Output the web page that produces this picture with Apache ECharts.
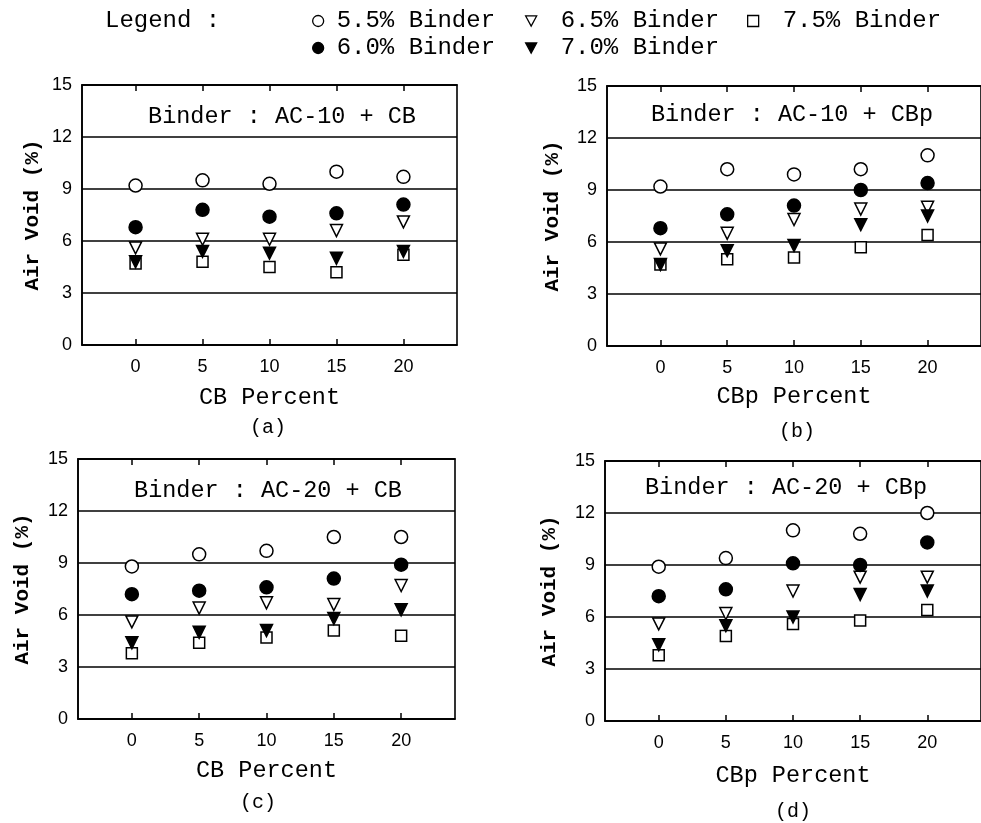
<!DOCTYPE html>
<html>
<head>
<meta charset="utf-8">
<script src="https://cdn.jsdelivr.net/npm/echarts@6/dist/echarts.min.js"></script>
<style>html,body{margin:0;padding:0;background:#fff;}#c{width:981px;height:823px;}</style>
</head>
<body>
<div id="c"></div>
<script>
// ---- data ----
const cbPercent = [0, 5, 10, 15, 20];
const xTicks = [0, 5, 10, 15, 20];
const yTicks = [0, 3, 6, 9, 12, 15];
const binders = ['5.5% Binder', '6.0% Binder', '6.5% Binder', '7.0% Binder', '7.5% Binder'];

// (a) AC-10 + CB
const a55 = [9.2, 9.5, 9.3, 10.0, 9.7];
const a60 = [6.8, 7.8, 7.4, 7.6, 8.1];
const a65 = [5.6, 6.1, 6.1, 6.6, 7.1];
const a70 = [4.8, 5.4, 5.3, 5.0, 5.4];
const a75 = [4.7, 4.8, 4.5, 4.2, 5.2];
// (b) AC-10 + CBp
const b55 = [9.2, 10.2, 9.9, 10.2, 11.0];
const b60 = [6.8, 7.6, 8.1, 9.0, 9.4];
const b65 = [5.6, 6.5, 7.3, 7.9, 8.0];
const b70 = [4.7, 5.5, 5.8, 7.0, 7.5];
const b75 = [4.7, 5.0, 5.1, 5.7, 6.4];
// (c) AC-20 + CB
const c55 = [8.8, 9.5, 9.7, 10.5, 10.5];
const c60 = [7.2, 7.4, 7.6, 8.1, 8.9];
const c65 = [5.6, 6.4, 6.7, 6.6, 7.7];
const c70 = [4.4, 5.0, 5.1, 5.8, 6.3];
const c75 = [3.8, 4.4, 4.7, 5.1, 4.8];
// (d) AC-20 + CBp
const d55 = [8.9, 9.4, 11.0, 10.8, 12.0];
const d60 = [7.2, 7.6, 9.1, 9.0, 10.3];
const d65 = [5.6, 6.2, 7.5, 8.3, 8.3];
const d70 = [4.4, 5.5, 6.0, 7.3, 7.5];
const d75 = [3.8, 4.9, 5.6, 5.8, 6.4];

const panelTitles = ['Binder : AC-10 + CB', 'Binder : AC-10 + CBp', 'Binder : AC-20 + CB', 'Binder : AC-20 + CBp'];
const xNames = ['CB Percent', 'CBp Percent', 'CB Percent', 'CBp Percent'];
const yName = 'Air Void (%)';
const subLabels = ['(a)', '(b)', '(c)', '(d)'];
const panelData = [
  [a55, a60, a65, a70, a75],
  [b55, b60, b65, b70, b75],
  [c55, c60, c65, c70, c75],
  [d55, d60, d65, d70, d75]
];

// ---- layout / style ----
const MONO = "'Liberation Mono', 'DejaVu Sans Mono', monospace";
const SANS = "'Liberation Sans', Arial, sans-serif";
const grids = [
  {left: 82, top: 85, width: 375, height: 260},
  {left: 607, top: 86, width: 375, height: 260},
  {left: 78, top: 459, width: 377, height: 260},
  {left: 605, top: 461, width: 376, height: 260}
];
const yNameGap = [39, 44, 45, 45];
const xNameGap = [41, 39, 40, 43];
const titlePos = [[282, 117], [792, 115], [268, 491], [786, 488]];
const subPos = [[268, 428], [797, 432], [258, 803], [793, 812]];

const symStyles = [
  {symbol: 'circle', size: 13, rot: 0, fill: '#fff'},
  {symbol: 'circle', size: 13, rot: 0, fill: '#000'},
  {symbol: 'triangle', size: 12, rot: 180, fill: '#fff'},
  {symbol: 'triangle', size: 12, rot: 180, fill: '#000'},
  {symbol: 'rect', size: 11, rot: 0, fill: '#fff'}
];
const legendIcons = ['circle', 'circle', 'path://M0,0L12,0L6,11Z', 'path://M0,0L12,0L6,11Z', 'rect'];
const drawOrder = [0, 2, 4, 1, 3];

const xAxes = [], yAxes = [], series = [], graphics = [];
grids.forEach((g, p) => {
  g.show = true; g.borderColor = '#000'; g.borderWidth = 1.6; g.backgroundColor = 'transparent'; g.containLabel = false;
  xAxes.push({
    gridIndex: p, type: 'value', min: -4, max: 24, position: 'bottom',
    name: xNames[p], nameLocation: 'middle', nameGap: xNameGap[p],
    nameTextStyle: {fontFamily: MONO, fontSize: 23.5, color: '#000'},
    axisLine: {show: true, onZero: false, lineStyle: {color: '#000', width: 1.6}},
    axisTick: {show: true, inside: true, length: 6, customValues: xTicks, lineStyle: {color: '#000', width: 1.5}},
    axisLabel: {show: true, customValues: xTicks, margin: 13, fontFamily: SANS, fontSize: 18, color: '#000'},
    splitLine: {show: false}
  });
  xAxes.push({
    gridIndex: p, type: 'value', min: -4, max: 24, position: 'top',
    axisLine: {show: true, onZero: false, lineStyle: {color: '#000', width: 1.6}},
    axisTick: {show: true, inside: true, length: 6, customValues: xTicks, lineStyle: {color: '#000', width: 1.5}},
    axisLabel: {show: false},
    splitLine: {show: false}
  });
  yAxes.push({
    gridIndex: p, type: 'value', min: yTicks[0], max: yTicks[yTicks.length - 1], interval: 3,
    position: 'left',
    name: yName, nameLocation: 'middle', nameGap: yNameGap[p], nameRotate: 90,
    nameTextStyle: {fontFamily: MONO, fontSize: 21, fontWeight: 'bold', color: '#000'},
    axisLine: {show: true, onZero: false, lineStyle: {color: '#000', width: 1.6}},
    axisTick: {show: false},
    axisLabel: {margin: 10, fontFamily: SANS, fontSize: 18, color: '#000'},
    splitLine: {show: true, lineStyle: {color: '#000', width: 1.6}}
  });
  drawOrder.forEach((b) => {
    const s = symStyles[b];
    series.push({
      type: 'scatter', name: binders[b], xAxisIndex: p * 2, yAxisIndex: p,
      symbol: s.symbol, symbolSize: s.size, symbolRotate: s.rot,
      itemStyle: {color: s.fill, borderColor: '#000', borderWidth: 1.5, opacity: 1},
      emphasis: {disabled: true},
      data: cbPercent.map((x, i) => [x, panelData[p][b][i]]),
      z: 3
    });
  });
  graphics.push({type: 'text', x: titlePos[p][0], y: titlePos[p][1],
    style: {text: panelTitles[p], font: "23.5px " + MONO, fill: '#000', textAlign: 'center', textVerticalAlign: 'middle'}});
  graphics.push({type: 'text', x: subPos[p][0], y: subPos[p][1],
    style: {text: subLabels[p], font: "20px " + MONO, fill: '#000', textAlign: 'center', textVerticalAlign: 'middle'}});
});
graphics.push({type: 'text', x: 105, y: 21,
  style: {text: 'Legend :', font: "24px " + MONO, fill: '#000', textAlign: 'left', textVerticalAlign: 'middle'}});

function mkLegend(idx, left, pad) {
  return {
    data: idx.map(i => ({name: binders[i], icon: legendIcons[i],
      itemStyle: {color: symStyles[i].fill, borderColor: '#000', borderWidth: 1.3}})),
    orient: 'vertical', left: left, top: 9, padding: 0,
    itemWidth: 11, itemHeight: 11, itemGap: 3, selectedMode: false,
    textStyle: {fontFamily: MONO, fontSize: 24, lineHeight: 24, color: '#000', padding: [0, 0, 0, pad]}
  };
}

const option = {
  backgroundColor: '#fff',
  animation: false,
  grid: grids,
  xAxis: xAxes,
  yAxis: yAxes,
  legend: [
    mkLegend([0, 1], 312, 8),
    mkLegend([2, 3], 525, 19),
    mkLegend([4], 747, 19)
  ],
  graphic: graphics,
  series: series
};
const chart = echarts.init(document.getElementById('c'), null, {renderer: 'canvas'});
chart.setOption(option);
</script>
</body>
</html>
